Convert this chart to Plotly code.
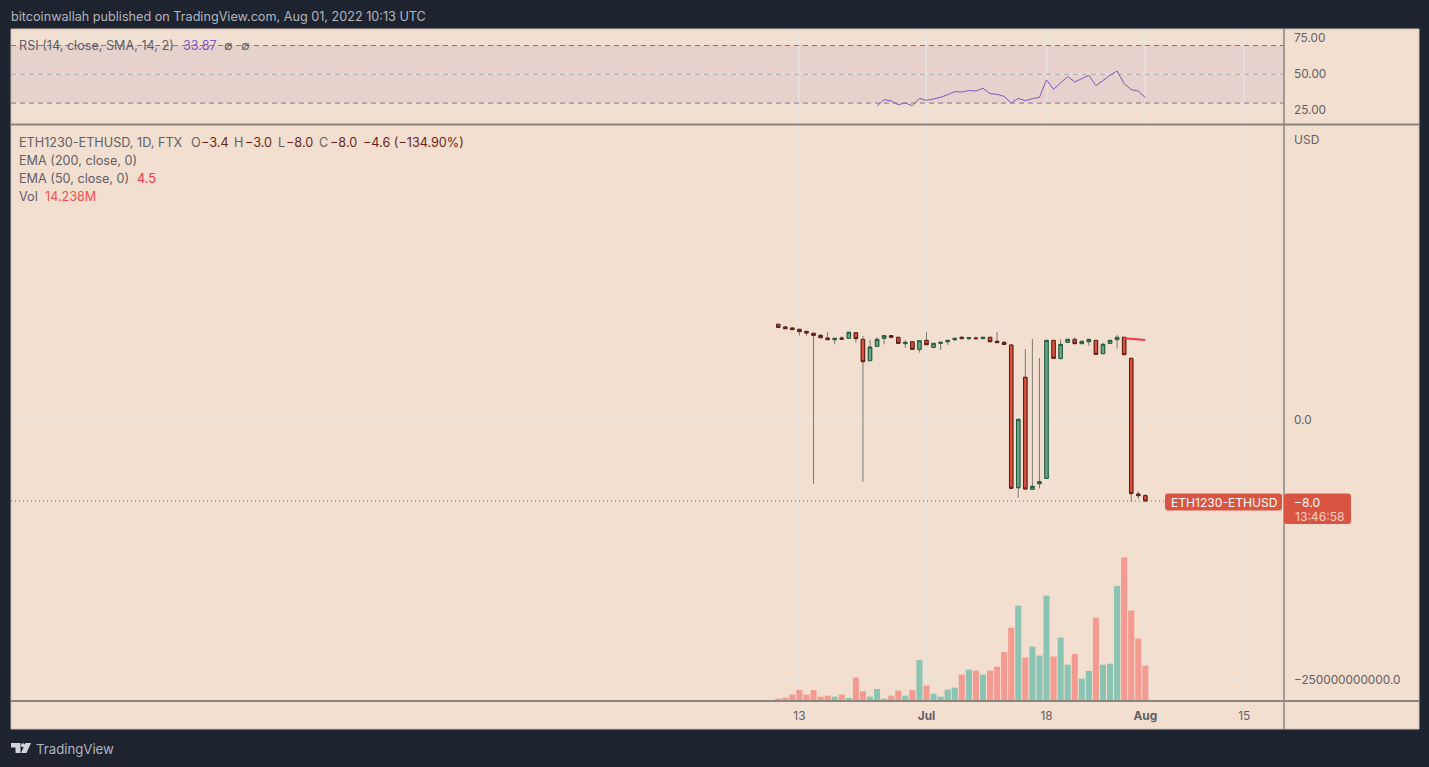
from datetime import datetime, timedelta
import plotly.graph_objects as go

WIDTH, HEIGHT = 1429, 767
PAGE_BG = "#1e2330"
PANEL_BG = "#f3dfcf"
GRID = "rgba(232,230,230,0.55)"
DIVIDER = "#8a8580"
TEXT = "#5f6068"
RED_TEXT = "#6b1f16"
LABEL_RED = "#d95541"

# daily bars, Jun 10 to Aug 1 2022. The price scale of the source is a warped
# log scale, so values are read as positions on it (0.0 and -8.0 are true)
start_day = datetime(2022, 6, 10)
opens = [9.24, 8.98, 8.88, 8.75, 8.55, 8.36, 8.16, 7.90, 7.74, 7.90, 7.87, 8.42, 7.77,
         5.69, 7.09, 7.87, 8.13, 7.97, 7.35, 7.54, 6.80, 7.67, 6.99, 7.38, 7.54, 7.74,
         7.97, 7.84, 7.90, 7.84, 7.97, 7.58, 7.48, 7.22, -6.70, 4.07, -6.86, -6.31, -5.79,
         7.67, 5.89, 7.48, 7.77, 7.35, 7.54, 7.67, 6.37, 7.38, 7.74, 7.97, 5.92, -7.32, -7.48]
highs = [9.24, 9.07, 8.88, 8.75, 8.55, 8.36, 8.29, 8.49, 7.87, 8.07, 8.46, 8.42, 8.10,
         7.71, 7.97, 8.13, 8.13, 7.97, 7.71, 7.54, 7.64, 8.49, 7.38, 7.48, 7.67, 7.87,
         8.07, 7.93, 8.07, 7.97, 7.97, 8.49, 7.61, 7.22, -0.03, 6.83, 7.80, 5.95, 7.67,
         7.67, 7.80, 7.77, 7.97, 7.58, 7.77, 7.67, 7.45, 7.67, 8.20, 7.97, 5.92, -7.06, -7.32]
lows = [8.94, 8.81, 8.72, 8.13, 8.13, -6.31, 7.93, 7.74, 7.28, 7.74, 7.87, 7.45, -6.11,
        5.69, 7.09, 7.28, 7.97, 7.38, 6.96, 6.80, 6.47, 7.25, 6.99, 6.73, 7.22, 7.61,
        7.84, 7.71, 7.84, 7.84, 7.54, 7.45, 7.28, -6.76, -7.67, -6.83, -6.86, -6.76, -5.79,
        5.92, 5.89, 7.48, 7.35, 7.35, 7.15, 6.31, 6.37, 7.38, 6.86, 6.28, -8.03, -7.80, -8.0]
closes = [8.94, 8.81, 8.72, 8.52, 8.39, 8.16, 7.93, 7.74, 7.87, 7.80, 8.46, 7.84, 5.59,
          7.02, 7.77, 8.13, 7.97, 7.38, 7.48, 6.80, 7.64, 7.25, 7.38, 7.48, 7.67, 7.87,
          7.84, 7.93, 7.84, 7.97, 7.54, 7.45, 7.28, -6.76, -0.03, -6.83, -6.57, -6.11, 7.67,
          5.92, 7.28, 7.77, 7.35, 7.58, 7.77, 6.31, 7.28, 7.67, 7.97, 6.28, -7.28, -7.48, -8.0]
# volume in millions
volumes = [0.94, 1.34, 2.55, 4.43, 2.55, 4.43, 1.75, 2.15, 1.75, 2.55, 1.21, 9.4, 3.89,
           1.75, 4.83, 0.94, 2.15, 4.16, 2.15, 4.43, 16.5, 6.18, 2.95, 1.75, 4.57, 5.37,
           10.6, 12.6, 12.2, 10.6, 12.2, 13.8, 19.7, 29.5, 38.4, 17.5, 21.9, 18.3, 42.4,
           17.9, 25.5, 14.6, 18.9, 9.0, 12.1, 33.6, 14.6, 15.0, 46.3, 57.7, 36.4, 25.1, 14.24]
# RSI starts at the 15th bar
rsi_values = [28.0, 32.4, 31.5, 28.9, 30.1, 28.2, 33.3, 31.9, 32.9, 34.0, 35.9, 38.0, 37.7,
              38.7, 38.4, 40.3, 36.6, 36.1, 34.7, 30.1, 33.3, 31.7, 33.1, 34.0, 46.1, 39.6,
              44.0, 48.4, 44.7, 46.8, 49.3, 42.1, 45.8, 49.3, 52.3, 43.5, 39.4, 38.4, 33.8]
# EMA 50 is only drawn over the last four bars
ema_values = [7.87, 7.84, 7.77, 7.71]

time_ticks = [datetime(2022, 6, 13), datetime(2022, 7, 1), datetime(2022, 7, 18),
              datetime(2022, 8, 1), datetime(2022, 8, 15)]
time_labels = ["13", "<b>Jul</b>", "18", "<b>Aug</b>", "15"]
price_ticks = [0, -25.37]
price_labels = ["0.0", "−250000000000.0"]
rsi_ticks = [25, 50, 75]
rsi_labels = ["25.00", "50.00", "75.00"]

days = [start_day + timedelta(days=i) for i in range(len(closes))]


def px(x):
    return x / WIDTH


def py(y):
    return 1 - y / HEIGHT


def rounded_box(x0, y0, x1, y1, r=3):
    """Rounded rectangle path in paper coordinates, from page pixels."""
    pts = [
        ("M", x0 + r, y0), ("L", x1 - r, y0), ("Q", x1, y0, x1, y0 + r),
        ("L", x1, y1 - r), ("Q", x1, y1, x1 - r, y1), ("L", x0 + r, y1),
        ("Q", x0, y1, x0, y1 - r), ("L", x0, y0 + r), ("Q", x0, y0, x0 + r, y0),
    ]
    out = ""
    for p in pts:
        out += p[0]
        vals = p[1:]
        out += " ".join(
            f"{px(vals[i]):.5f},{py(vals[i + 1]):.5f}" for i in range(0, len(vals), 2)
        ) + " "
    return out + "Z"


def poly(points):
    return "M" + " L".join(f"{px(x):.5f},{py(y):.5f}" for x, y in points) + " Z"


fig = go.Figure()

# volume sits in the main pane on its own hidden axis
vol_colors = ["#8cc4b4" if c >= o else "#f39b90" for o, c in zip(opens, closes)]
fig.add_trace(go.Bar(x=days, y=volumes, marker=dict(color=vol_colors, line_width=0),
                     xaxis="x", yaxis="y3", hoverinfo="skip"))

# wicks are grey, bodies have a dark outline, so two candlestick layers
fig.add_trace(go.Candlestick(
    x=days, open=opens, high=highs, low=lows, close=closes,
    increasing=dict(line=dict(color="#7d7973", width=1), fillcolor="rgba(0,0,0,0)"),
    decreasing=dict(line=dict(color="#7d7973", width=1), fillcolor="rgba(0,0,0,0)"),
    xaxis="x", yaxis="y", hoverinfo="skip",
))
fig.add_trace(go.Candlestick(
    x=days, open=opens, close=closes,
    high=[max(o, c) for o, c in zip(opens, closes)],
    low=[min(o, c) for o, c in zip(opens, closes)],
    increasing=dict(line=dict(color="#1d5c3f", width=1), fillcolor="#6aa584"),
    decreasing=dict(line=dict(color="#5c1c12", width=1), fillcolor="#d9503f"),
    xaxis="x", yaxis="y", hoverinfo="skip",
))
fig.add_trace(go.Scatter(x=days[-len(ema_values):], y=ema_values, mode="lines",
                         line=dict(color="#f23645", width=2), xaxis="x", yaxis="y",
                         hoverinfo="skip"))
fig.add_trace(go.Scatter(x=days[-len(rsi_values):], y=rsi_values, mode="lines",
                         line=dict(color="#7e57c2", width=1), xaxis="x", yaxis="y2",
                         hoverinfo="skip"))

shapes = [
    # panel behind everything
    dict(type="rect", xref="paper", yref="paper", x0=px(11), x1=px(1419), y0=py(729), y1=py(29),
         fillcolor=PANEL_BG, line=dict(color="#c9bfb4", width=1), layer="below"),
    # RSI band and levels
    dict(type="rect", xref="x domain", yref="y2", x0=0, x1=1, y0=30, y1=70,
         fillcolor="rgba(126,87,194,0.10)", line_width=0, layer="below"),
    dict(type="line", xref="x domain", yref="y2", x0=0, x1=1, y0=70, y1=70,
         line=dict(color="#787b86", width=1, dash="5px 4px"), layer="above"),
    dict(type="line", xref="x domain", yref="y2", x0=0, x1=1, y0=50, y1=50,
         line=dict(color="rgba(120,123,134,0.55)", width=1, dash="5px 4px"), layer="above"),
    dict(type="line", xref="x domain", yref="y2", x0=0, x1=1, y0=30, y1=30,
         line=dict(color="#787b86", width=1, dash="5px 4px"), layer="above"),
    # last price line
    dict(type="line", xref="x domain", yref="y", x0=0, x1=1, y0=closes[-1], y1=closes[-1],
         line=dict(color="#b5483a", width=1, dash="1px 3px"), layer="above"),
    # pane dividers
    dict(type="line", xref="paper", yref="paper", x0=px(11), x1=px(1419), y0=py(124.5), y1=py(124.5),
         line=dict(color=DIVIDER, width=2), layer="above"),
    dict(type="line", xref="paper", yref="paper", x0=px(11), x1=px(1419), y0=py(701), y1=py(701),
         line=dict(color=DIVIDER, width=2), layer="above"),
    dict(type="line", xref="paper", yref="paper", x0=px(1284), x1=px(1284), y0=py(729), y1=py(29),
         line=dict(color=DIVIDER, width=1.5), layer="above"),
    # last price tags
    dict(type="path", xref="paper", yref="paper", path=rounded_box(1165, 493.5, 1282, 510.5),
         fillcolor=LABEL_RED, line_width=0, layer="above"),
    dict(type="path", xref="paper", yref="paper", path=rounded_box(1284, 493.5, 1351, 524),
         fillcolor=LABEL_RED, line_width=0, layer="above"),
    # TradingView mark
    dict(type="path", xref="paper", yref="paper",
         path=poly([(11, 743), (20.5, 743), (20.5, 753), (15.5, 753), (15.5, 747.5), (11, 747.5)]),
         fillcolor="#d1d4dc", line_width=0, layer="above"),
    dict(type="path", xref="paper", yref="paper",
         path=poly([(25.5, 743), (31, 743), (26.5, 753), (21, 753)]),
         fillcolor="#d1d4dc", line_width=0, layer="above"),
    dict(type="circle", xref="paper", yref="paper", x0=px(21), x1=px(25), y0=py(747.2), y1=py(743.2),
         fillcolor="#d1d4dc", line_width=0, layer="above"),
]


def label(x, y, text, color=TEXT, size=12.65):
    # annotations carry about 2px of padding on the left
    return dict(xref="paper", yref="paper", x=px(x), y=py(y), text=text, showarrow=False,
                xanchor="left", yanchor="middle", align="left",
                font=dict(color=color, size=size), xshift=-2)


annotations = [
    label(11, 16.5, "bitcoinwallah published on TradingView.com, Aug 01, 2022 10:13 UTC", "#b2b5be"),
    label(36, 749, "TradingView", "#b2b5be", 13.2),
    label(19, 45, "RSI (14, close, SMA, 14, 2)"),
    label(183, 45, "33.87", "#7e57c2"),
    label(224, 45, "∅"),
    label(241, 45, "∅"),
    label(19, 142.5, "ETH1230-ETHUSD, 1D, FTX"),
    label(190.5, 142.5, "O"), label(201, 142.5, "−3.4", RED_TEXT),
    label(234, 142.5, "H"), label(245, 142.5, "−3.0", RED_TEXT),
    label(278, 142.5, "L"), label(286, 142.5, "−8.0", RED_TEXT),
    label(319, 142.5, "C"), label(330, 142.5, "−8.0", RED_TEXT),
    label(362.5, 142.5, "−4.6 (−134.90%)", RED_TEXT),
    label(19, 160.5, "EMA (200, close, 0)"),
    label(19, 178.5, "EMA (50, close, 0)"),
    label(136.5, 178.5, "4.5", "#f23645"),
    label(19, 196.5, "Vol"),
    label(45, 196.5, "14.238M", "#f0524f"),
    label(1294, 139, "USD", TEXT, 12),
    label(1171, 502, "ETH1230-ETHUSD", "#ffffff", 12.1),
    label(1294, 502, "−8.0", "#ffffff", 12.1),
    label(1295, 516, "13:46:58", "#f6cfc7", 12.1),
]

# pixel scale of the time axis: Jun 13 at x=799.4, 7.06 px per day
range_start = time_ticks[0] - timedelta(days=(799.4 - 11) / 7.06)
range_end = time_ticks[0] + timedelta(days=(1284 - 799.4) / 7.06)

fig.update_layout(
    width=WIDTH,
    height=HEIGHT,
    margin=dict(l=0, r=0, t=0, b=0),
    paper_bgcolor=PAGE_BG,
    plot_bgcolor="rgba(0,0,0,0)",
    showlegend=False,
    boxmode="overlay",
    boxgap=0.3,
    bargap=0.14,
    font=dict(family="Inter, 'Noto Sans', sans-serif", size=11.8, color=TEXT),
    shapes=shapes,
    annotations=annotations,
    xaxis=dict(
        domain=[px(11), px(1284)],
        type="date",
        range=[range_start, range_end],
        anchor="y",
        rangeslider=dict(visible=False),
        tickmode="array",
        tickvals=time_ticks,
        ticktext=time_labels,
        ticks="",
        ticklabelstandoff=6,
        showgrid=True,
        gridcolor=GRID,
        gridwidth=1.5,
        zeroline=False,
        showline=False,
    ),
    yaxis=dict(
        domain=[py(701), py(125)],
        range=[(419 - 701) / 10.25, (419 - 125) / 10.25],
        anchor="x",
        side="right",
        tickmode="array",
        tickvals=price_ticks,
        ticktext=price_labels,
        ticks="",
        ticklabelstandoff=9,
        ticklabelshift=1,
        showgrid=True,
        gridcolor=GRID,
        gridwidth=1.5,
        zeroline=False,
        showline=False,
        automargin=False,
    ),
    yaxis2=dict(
        domain=[py(124), py(29)],
        range=[15.49, 81.46],
        anchor="x",
        side="right",
        tickmode="array",
        tickvals=rsi_ticks,
        ticktext=rsi_labels,
        ticks="",
        ticklabelstandoff=9,
        showgrid=True,
        gridcolor=GRID,
        gridwidth=1.5,
        zeroline=False,
        showline=False,
    ),
    yaxis3=dict(
        overlaying="y",
        range=[0, 231.8],
        visible=False,
        side="right",
    ),
)

fig.write_html("out.html", config=dict(displayModeBar=False),
               post_script="document.body.style.margin='0';document.body.style.overflow='hidden';")
